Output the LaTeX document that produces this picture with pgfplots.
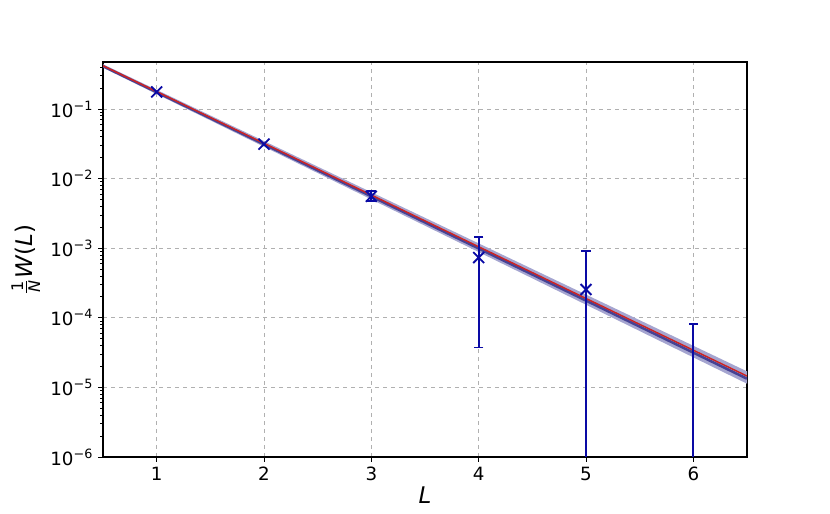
\documentclass[border=0pt]{standalone}
\usepackage{fontspec}
\setmainfont{DejaVu Sans}
\usepackage{amsmath}
\usepackage{pgfplots}
\pgfplotsset{compat=1.18}
\usepgfplotslibrary{fillbetween}
\definecolor{errcol}{RGB}{10,10,165}
\definecolor{fitblue}{RGB}{70,66,148}
\definecolor{fitred}{RGB}{205,35,35}
\definecolor{bandcol}{RGB}{165,165,208}
\definecolor{gridcol}{RGB}{176,176,176}
\begin{document}
\begin{tikzpicture}
\begin{semilogyaxis}[
  scale only axis,
  width=483pt, height=296.25pt,
  xmin=0.5, xmax=6.5,
  ymin=1e-6, ymax=0.474,
  xtick={1,2,3,4,5,6},
  xticklabels={1,2,3,4,5,6},
  ytick={1e-6,1e-5,1e-4,1e-3,1e-2,1e-1},
  yticklabels={10\textsuperscript{−6},10\textsuperscript{−5},10\textsuperscript{−4},10\textsuperscript{−3},10\textsuperscript{−2},10\textsuperscript{−1}},
  minor ytick={2e-6,3e-6,4e-6,5e-6,6e-6,7e-6,8e-6,9e-6,
               2e-5,3e-5,4e-5,5e-5,6e-5,7e-5,8e-5,9e-5,
               2e-4,3e-4,4e-4,5e-4,6e-4,7e-4,8e-4,9e-4,
               2e-3,3e-3,4e-3,5e-3,6e-3,7e-3,8e-3,9e-3,
               2e-2,3e-2,4e-2,5e-2,6e-2,7e-2,8e-2,9e-2,
               2e-1,3e-1,4e-1},
  xtick pos=left, ytick pos=left,
  tick align=outside,
  major tick length=3.6pt,
  minor tick length=2.1pt,
  every tick/.style={black, line width=0.6pt},
  axis line style={line width=0.8pt},
  xmajorgrids, ymajorgrids,
  major grid style={gridcol, dashed, line width=0.6pt},
  ticklabel style={font=\fontsize{13.7}{16}\selectfont},
  yticklabel style={inner sep=0pt, anchor=east, xshift=-3.6pt},
  xticklabel style={inner sep=0pt, anchor=north, yshift=-3.6pt},
  xlabel={\textit{L}},
  ylabel={$\frac{\text{1}}{\text{\textit{N}}}\text{\textit{W}(\textit{L})}$},
  label style={font=\fontsize{17.2}{20}\selectfont},
  xlabel style={at={(axis description cs:0.5,-0.096)}, anchor=center},
  ylabel style={at={(axis description cs:-0.12,0.5)}, anchor=center},
  clip=true,
]
% uncertainty band
\addplot[name path=up, draw=none, forget plot] coordinates {(0.5,0.44) (6.5,1.70e-5)};
\addplot[name path=lo, draw=none, forget plot] coordinates {(0.5,0.392) (6.5,1.13e-5)};
\addplot[bandcol, fill opacity=1, draw=none] fill between[of=up and lo];
% fit lines
\addplot[fitblue, line width=1.9pt, no marks] coordinates {(0.5,0.413) (6.5,1.334e-5)};
\addplot[fitred, line width=1.1pt, no marks] coordinates {(0.5,0.419) (6.5,1.455e-5)};
% error bars
\addplot[errcol, line width=1.4pt, no marks] coordinates {(3,4.71e-3) (3,6.56e-3)};
\addplot[errcol, line width=1.4pt, no marks] coordinates {(4,3.74e-5) (4,1.43e-3)};
\addplot[errcol, line width=1.4pt, no marks] coordinates {(5,1e-8) (5,9.05e-4)};
\addplot[errcol, line width=1.4pt, no marks] coordinates {(6,1e-8) (6,8.2e-5)};
\addplot[errcol, only marks, mark=-, mark size=3.6pt, mark options={line width=1.4pt}] coordinates {(3,4.71e-3) (3,6.56e-3) (4,3.74e-5) (4,1.43e-3) (5,9.05e-4) (6,8.2e-5)};
% data points
\addplot[errcol, only marks, mark=x, mark size=5.8pt, mark options={line width=1.4pt}] coordinates {(1,0.176) (2,0.0313) (3,0.00557) (4,7.35e-4) (5,2.55e-4)};
\end{semilogyaxis}
\pgfresetboundingbox
\path[use as bounding box] ([shift={(-77.25pt,-42pt)}]current axis.south west) rectangle ([shift={(62.25pt,46.5pt)}]current axis.north east);
\end{tikzpicture}
\end{document}
